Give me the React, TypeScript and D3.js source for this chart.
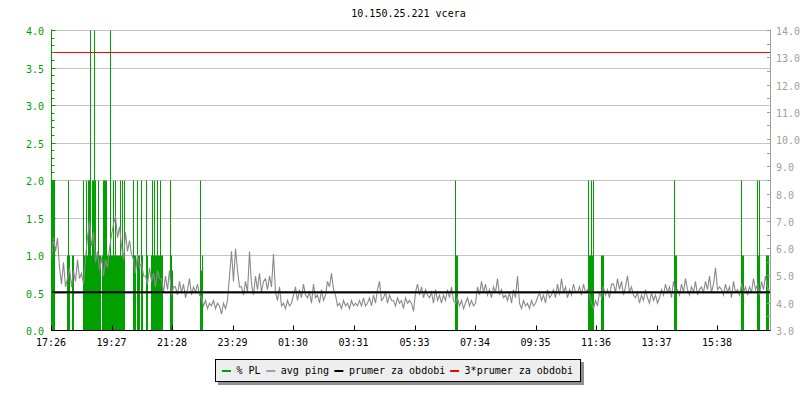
import React from "react";
import * as d3 from "d3";

const title = "10.150.25.221 vcera";
const timeLabels = ["17:26", "19:27", "21:28", "23:29", "01:30", "03:31", "05:33", "07:34", "09:35", "11:36", "13:37", "15:38"];
const startLabel = "17:26";
const leftMajor = [0, 0.5, 1, 1.5, 2, 2.5, 3, 3.5, 4];
const rightMajor = [3, 4, 5, 6, 7, 8, 9, 10, 11, 12, 13, 14];
const avgPing = 4.4;

// avg ping (ms), one value every 4 minutes from 17:26
const pingValues = [
  5.6, 6.4, 5.9, 6.4,
  5.3, 4.7, 5.5, 4.6, 4.9,
  5.3, 4.6, 5.2, 4.8, 5.6, 4.9, 5.1, 4.7,
  5.6, 6.4, 7.0, 6.1, 6.6,
  5.5, 5.9, 5.2, 5.7, 5.0, 5.6, 5.3,
  6.0, 6.5, 6.9, 7.2, 6.4, 6.8, 6.1,
  5.6, 6.6, 5.9, 6.3, 5.8,
  5.6, 5.1, 5.8, 5.3, 5.5, 5.0,
  5.0, 4.7, 5.3, 4.8, 5.1, 4.6, 5.2, 4.9,
  4.9, 4.4, 5.0, 4.5, 5.2, 4.3, 4.6,
  4.6, 4.3, 4.8, 4.4, 4.7, 4.2, 4.5, 4.9, 4.3, 4.6, 4.4, 4.7, 4.3,
  4.2, 3.9, 4.1, 3.8, 4.0, 3.9, 4.1, 3.8, 4.0, 3.9, 3.6, 4.0, 3.8, 4.1,
  5.0, 5.9, 4.8, 6.0, 5.2, 4.6,
  4.6, 4.3, 4.8, 4.4,
  5.9,
  4.7, 4.3, 5.0, 4.5, 5.1, 4.4, 4.8,
  4.9, 4.5, 5.0, 4.6,
  5.8,
  4.4, 4.1, 4.6,
  3.9, 4.0, 3.8, 4.1, 3.9, 4.0,
  4.3, 4.6, 4.1, 4.5, 4.2, 4.7, 4.3,
  4.2, 4.4, 4.0, 4.7, 4.2, 4.3, 4.0, 4.5, 4.1, 4.3, 4.8,
  4.6, 5.1, 4.5, 4.3,
  3.9, 4.0, 3.8, 4.1, 3.9, 4.0, 3.8, 4.1, 3.9, 4.0, 3.9,
  4.1, 3.9, 4.2, 3.9, 4.0, 4.2, 3.9,
  4.3, 4.0, 4.5, 4.8, 4.1, 4.2, 4.4, 4.0, 4.3, 4.1,
  4.1, 3.9, 4.2, 4.0, 4.1, 3.8, 4.2, 4.0, 4.1,
  4.0, 3.7,
  4.4, 4.7, 4.3, 4.6, 4.2, 4.5, 4.3,
  4.2, 4.4, 4.0, 4.5, 4.1, 4.3, 4.0,
  4.3, 4.1, 4.5, 4.2, 4.6, 4.1,
  4.0, 4.2, 3.9, 4.1, 3.8, 4.0, 4.2, 3.9, 4.1, 3.9, 4.0,
  4.6, 4.3, 4.8, 4.4, 4.7, 4.3, 4.5, 4.2, 4.6, 4.4, 4.9, 4.3, 4.5, 4.2,
  4.3, 4.1, 4.4, 4.0, 4.5, 4.2, 5.0,
  4.0, 3.8, 4.1, 3.9, 4.0, 3.8, 4.1, 3.9, 4.0,
  4.2, 4.4, 4.1, 4.3, 4.0, 4.5, 4.2, 4.3,
  4.5, 4.2, 4.7, 4.3, 4.9, 4.4, 4.6, 4.2, 4.5, 4.3, 4.7, 4.4,
  4.4, 4.6, 4.3, 4.7, 4.4, 4.5, 4.3,
  4.0, 3.8, 4.1, 3.9,
  4.4, 4.2, 4.6, 4.3, 4.5, 4.2, 4.7,
  4.7, 4.4, 4.9, 4.5, 4.8, 4.3, 4.6, 5.0, 4.4, 4.6, 4.3,
  4.2, 4.4, 4.0, 4.3, 4.1, 4.5, 4.2, 4.0, 4.4, 4.1, 4.3, 4.0, 4.2,
  4.5, 4.3, 4.7, 4.4, 4.6, 4.2, 4.8, 4.4, 4.5, 4.3, 4.7, 4.4, 4.9, 4.5, 4.3, 4.6, 4.4, 4.8, 4.3, 4.5,
  4.6, 4.4, 4.8, 4.5, 5.0, 4.4, 4.7, 5.3, 4.5, 4.6,
  4.5, 4.3, 4.7, 4.4, 4.6, 4.2, 4.8, 4.4, 4.5, 4.3, 4.7, 4.4, 4.6, 4.3,
  4.6, 4.4, 4.9, 4.5, 4.7, 4.3, 4.8, 4.5, 5.0, 4.6, 4.4,
];

// packet loss (%): sample number (2-minute samples from 17:26) and value
const plSamples = [
  0, 1, 2, 3,
  16, 17, 18, 21, 22,
  32, 33, 34, 35, 36, 37, 38, 39, 40, 41, 42, 43, 44, 45, 46, 47, 48, 49,
  51, 52, 53, 54, 55, 56, 57, 58, 59, 60, 61, 62, 63, 64, 65, 66, 67, 68, 69, 70, 71, 72, 73,
  82, 83, 84, 86, 87, 88, 90, 91, 95, 96, 100, 101, 102, 103, 104, 105, 106, 107, 108, 109, 110, 111,
  119, 120, 121, 149, 150, 151,
  404, 405, 406,
  537, 538, 539, 540, 541, 542,
  550, 551, 552,
  623, 624, 625,
  690, 691, 692,
  706, 707, 708,
  715, 716, 717,
];
const plValues = [
  2, 2, 2, 2,
  1, 2, 1, 1, 1,
  2, 1, 1, 2, 1, 2, 2, 4, 1, 2, 2, 4, 2, 1, 1, 2, 1, 1,
  1, 2, 2, 2, 2, 1, 1, 1, 4, 1, 1, 2, 1, 2, 1, 1, 1, 1, 2, 1, 2, 1, 2, 2, 1,
  1, 2, 1, 1, 2, 1, 2, 1, 1, 2, 1, 2, 1, 1, 2, 1, 1, 2, 1, 1, 2, 1,
  0.8, 2, 0.8, 1, 2, 1,
  1, 2, 1,
  1, 2, 1, 2, 1, 1,
  1, 2, 1,
  1, 2, 1,
  1, 2, 1,
  2, 1, 1,
  1, 2, 1,
];

const legendItems = [
  { label: "% PL", color: "#00a000" },
  { label: "avg ping", color: "#a0a0a0" },
  { label: "prumer za obdobi", color: "#000000" },
  { label: "3*prumer za obdobi", color: "#ff0000" },
];

const W = 800;
const H = 400;
const FONT = "'DejaVu Sans Mono', monospace";
const GREEN = "#00a000";
const GRAYLINE = "#a0a0a0";

function toMin(s: string) {
  const [h, m] = s.split(":").map(Number);
  return h * 60 + m;
}

export default function App() {
  const left = 51;
  const right = 770.5;
  const top = 30.5;
  const bottom = 330.5;

  const x = d3.scaleLinear().domain([0, 1440]).range([51, 771]);
  const yL = d3.scaleLinear().domain([0, 4]).range([bottom, top]);
  const yR = d3.scaleLinear().domain([3, 14]).range([bottom, top]);

  const start = toMin(startLabel);
  const tickOffsets = timeLabels.map((t) => (toMin(t) - start + 1440) % 1440);

  const pingLine = d3
    .line<number>()
    .x((_, i) => x(i * 4) + 0.5)
    .y((d) => yR(d))
    .curve(d3.curveLinear)(pingValues) as string;

  const leftMinor = d3.range(0, 40.5, 1).map((d) => d / 10);
  const rightMinor = d3.range(6, 28.5, 1).map((d) => d / 2);

  const crisp = (v: number) => Math.round(v - 0.5) + 0.5;

  // legend layout
  const charW = 5.95;
  let lx = 222;
  const legendPos = legendItems.map((it) => {
    const p = { ...it, sx: lx, tx: lx + 14.5 };
    lx = p.tx + it.label.length * charW + 6;
    return p;
  });

  return (
    <svg width={W} height={H} style={{ display: "block", position: "absolute", left: 0, top: 0, background: "#fff" }} fontFamily={FONT} fontSize={10}>
      <rect x={0} y={0} width={W} height={H} fill="#ffffff" />
      <text x={408.5} y={17} textAnchor="middle" fill="#000">{title}</text>

      {/* grid */}
      {leftMajor.map((v) => (
        <line key={"g" + v} x1={left} x2={right} y1={crisp(yL(v))} y2={crisp(yL(v))} stroke="#c4c4c4" strokeWidth={1} />
      ))}

      {/* packet loss bars */}
      {plSamples.map((s, i) => (
        <rect key={"pl" + i} x={x(s * 2)} y={yL(plValues[i])} width={x(2) - x(0)} height={bottom - yL(plValues[i])} fill={GREEN} />
      ))}

      {/* ping */}
      <path d={pingLine} fill="none" stroke="#8a8a8a" strokeWidth={1.1} />

      {/* average lines */}
      <line x1={left} x2={right} y1={yR(avgPing)} y2={yR(avgPing)} stroke="#000" strokeWidth={2} />
      <line x1={left} x2={right} y1={crisp(yR(avgPing * 3))} y2={crisp(yR(avgPing * 3))} stroke="#ff0000" strokeWidth={1} />

      {/* left axis */}
      <line x1={left + 0.5} x2={left + 0.5} y1={top - 1} y2={bottom} stroke={GREEN} strokeWidth={1} />
      {leftMinor.map((v) => (
        <line key={"lm" + v} x1={left} x2={left + 3.5} y1={crisp(yL(v))} y2={crisp(yL(v))} stroke={GREEN} strokeWidth={1} />
      ))}
      {leftMajor.map((v) => (
        <g key={"lt" + v}>
          <line x1={left} x2={left + 4.5} y1={crisp(yL(v))} y2={crisp(yL(v))} stroke={GREEN} strokeWidth={1} />
          <text x={44} y={yL(v) + 4.5} textAnchor="end" fill={GREEN}>{v.toFixed(1)}</text>
        </g>
      ))}

      {/* right axis */}
      <line x1={right} x2={right} y1={top - 1} y2={bottom} stroke={GRAYLINE} strokeWidth={1} />
      {rightMinor.map((v) => (
        <line key={"rm" + v} x1={right - 3.5} x2={right} y1={crisp(yR(v))} y2={crisp(yR(v))} stroke={GRAYLINE} strokeWidth={1} />
      ))}
      {rightMajor.map((v) => (
        <text key={"rt" + v} x={776} y={yR(v) + 4.5} textAnchor="start" fill={GRAYLINE}>{v.toFixed(1)}</text>
      ))}

      {/* x axis */}
      <line x1={left} x2={right} y1={bottom} y2={bottom} stroke="#000" strokeWidth={1} />
      {tickOffsets.map((o, i) => {
        const tx = crisp(x(o) + 0.5);
        return (
          <g key={"xt" + i}>
            <line x1={tx} x2={tx} y1={bottom - 5} y2={bottom} stroke="#000" strokeWidth={1} />
            <text x={x(o)} y={346} textAnchor="middle" fill="#000">{timeLabels[i]}</text>
          </g>
        );
      })}

      {/* legend */}
      <rect x={218} y={362} width={366} height={23} fill="#909090" />
      <rect x={215.5} y={359.5} width={365} height={22} fill="#eeeeee" stroke="#000" strokeWidth={1} />
      {legendPos.map((p) => (
        <g key={p.label}>
          <rect x={p.sx} y={370} width={9} height={2} fill={p.color} />
          <text x={p.tx} y={373.5} fill="#000">{p.label}</text>
        </g>
      ))}
    </svg>
  );
}
